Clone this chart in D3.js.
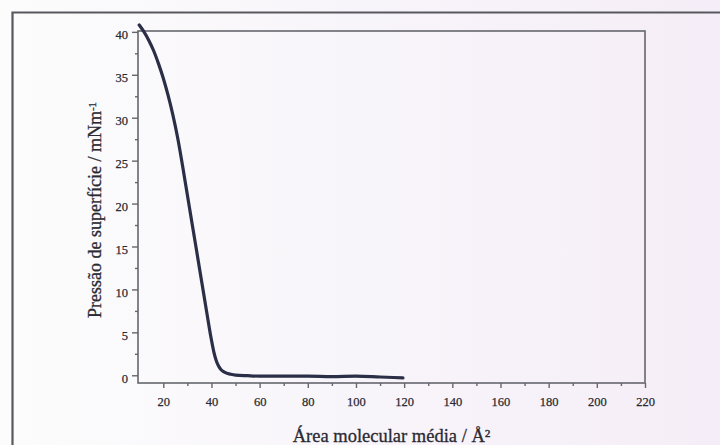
<!DOCTYPE html>
<html>
<head>
<meta charset="utf-8">
<script src="https://cdn.jsdelivr.net/npm/d3@7/dist/d3.min.js"></script>
<style>
  html, body { margin: 0; padding: 0; background: #fbfafc; }
  svg { display: block; }
</style>
</head>
<body>
<svg id="chart" width="720" height="445"></svg>
<script>
// Surface pressure isotherm (Langmuir)
const area = [10, 12, 14, 16, 18, 20, 22, 24, 26, 28, 30, 32, 34, 36, 38, 40, 41, 42, 43, 44, 45, 46, 48, 50, 55, 60, 70, 80, 90, 100, 110, 119.5];
const pressure = [40.8, 40.0, 39.0, 37.8, 36.3, 34.6, 32.6, 30.3, 27.6, 24.4, 21.0, 17.6, 14.2, 10.8, 7.4, 4.1, 2.7, 1.7, 1.05, 0.65, 0.42, 0.28, 0.12, 0.02, -0.05, -0.1, -0.1, -0.1, -0.15, -0.1, -0.2, -0.3];
const xTicks = [20, 40, 60, 80, 100, 120, 140, 160, 180, 200, 220];
const xMinor = [30, 50, 70, 90, 110, 130, 150, 170, 190, 210];
const yTicks = [0, 5, 10, 15, 20, 25, 30, 35, 40];
const yMinor = [2.5, 7.5, 12.5, 17.5, 22.5, 27.5, 32.5, 37.5];
const xTitle = "Área molecular média / Å²";
const yTitle = "Pressão de superfície / mNm";

const svg = d3.select("#chart");
const W = 720, H = 445;

// background (paper scan tint)
const defs = svg.append("defs");
const grad = defs.append("linearGradient").attr("id", "bg").attr("x1", "0").attr("x2", "1").attr("y1", "0").attr("y2", "0");
grad.append("stop").attr("offset", "0").attr("stop-color", "#fcfcfc");
grad.append("stop").attr("offset", "0.5").attr("stop-color", "#f8f5fa");
grad.append("stop").attr("offset", "1").attr("stop-color", "#f5edf7");
svg.append("rect").attr("width", W).attr("height", H).attr("fill", "url(#bg)");

// outer frame (left and top lines)
svg.append("path").attr("d", "M12.5,445 L12.5,12.5 L720,12.5")
  .attr("fill", "none").attr("stroke", "#58585e").attr("stroke-width", 2.2);

const x = d3.scaleLinear().domain([9.5, 220]).range([138, 645]);
const y = d3.scaleLinear().domain([-0.9, 40.1]).range([383, 31]);

const axisColor = "#66666e";
const textColor = "#2a2a32";
const font = "'Liberation Serif', 'Times New Roman', serif";

// plot frame
svg.append("rect")
  .attr("x", x(9.5)).attr("y", y(40.1))
  .attr("width", x(220) - x(9.5)).attr("height", y(-0.9) - y(40.1))
  .attr("fill", "none").attr("stroke", axisColor).attr("stroke-width", 1.6);

// x axis
const gx = svg.append("g").attr("transform", `translate(0,${y(-0.9)})`);
gx.call(d3.axisBottom(x).tickValues(xTicks).tickSize(5).tickPadding(9).tickFormat(d3.format("d")));
gx.append("g").call(d3.axisBottom(x).tickValues(xMinor).tickSize(3).tickFormat(""));
gx.selectAll(".domain").remove();
gx.selectAll("line").attr("stroke", axisColor).attr("stroke-width", 1.4);
gx.selectAll("text").attr("font-family", font).attr("font-size", 12.5).attr("fill", textColor)
  .attr("stroke", textColor).attr("stroke-width", 0.25);

// y axis
const gy = svg.append("g").attr("transform", `translate(${x(9.5)},0)`);
gy.call(d3.axisLeft(y).tickValues(yTicks).tickSize(6).tickPadding(4).tickFormat(d3.format("d")));
gy.append("g").call(d3.axisLeft(y).tickValues(yMinor).tickSize(3).tickFormat(""));
gy.selectAll(".domain").remove();
gy.selectAll("line").attr("stroke", axisColor).attr("stroke-width", 1.4);
gy.selectAll("text").attr("font-family", font).attr("font-size", 12.5).attr("fill", textColor)
  .attr("stroke", textColor).attr("stroke-width", 0.25).attr("dy", "0.55em");

// curve
const pts = area.map((a, i) => [a, pressure[i]]);
const line = d3.line().x(d => x(d[0])).y(d => y(d[1])).curve(d3.curveMonotoneX);
svg.append("path").datum(pts).attr("d", line)
  .attr("fill", "none").attr("stroke", "#2b2e47").attr("stroke-width", 3.2)
  .attr("stroke-linecap", "round").attr("stroke-linejoin", "round");

// axis titles
svg.append("text")
  .attr("x", (x(9.5) + x(220)) / 2).attr("y", 442)
  .attr("text-anchor", "middle")
  .attr("font-family", font).attr("font-size", 18.5).attr("fill", textColor)
  .attr("stroke", textColor).attr("stroke-width", 0.3)
  .text(xTitle);

const yt = svg.append("text")
  .attr("transform", `translate(101,${(y(-0.9) + y(40.1)) / 2 + 3}) rotate(-90)`)
  .attr("text-anchor", "middle")
  .attr("font-family", font).attr("font-size", 18).attr("fill", textColor)
  .attr("stroke", textColor).attr("stroke-width", 0.3);
yt.append("tspan").text(yTitle);
yt.append("tspan").attr("dy", "-0.45em").attr("font-size", 11).text("-1");
</script>
</body>
</html>
